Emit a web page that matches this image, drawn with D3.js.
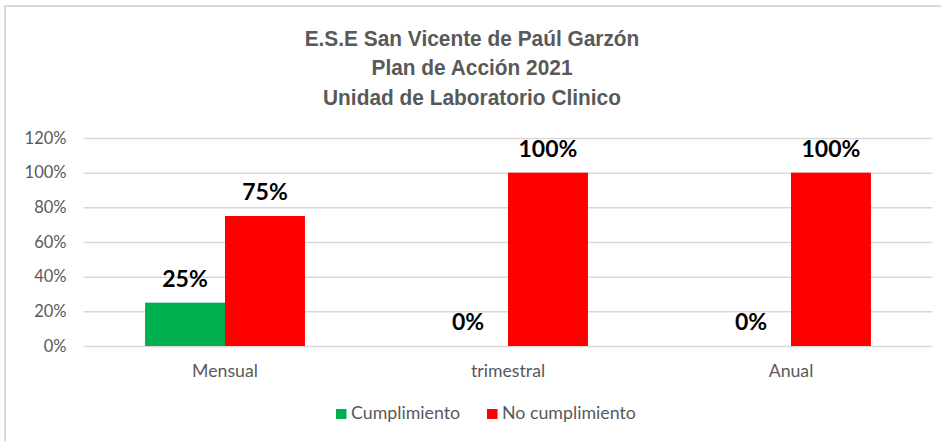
<!DOCTYPE html>
<html><head><meta charset="utf-8">
<script src="https://cdn.jsdelivr.net/npm/d3@7/dist/d3.min.js"></script>
<style>body{margin:0;background:#fff;overflow:hidden}</style>
</head><body><svg id="c" width="941" height="441"></svg>
<script>
const titleLines = ["E.S.E San Vicente de Paúl Garzón", "Plan de Acción 2021", "Unidad de Laboratorio Clinico"];
const categories = ["Mensual", "trimestral", "Anual"];
const seriesNames = ["Cumplimiento", "No cumplimiento"];
const cumplimiento = [0.25, 0, 0];
const noCumplimiento = [0.75, 1, 1];
const yTicks = [0, 0.2, 0.4, 0.6, 0.8, 1.0, 1.2];
const colors = ["#00B050", "#FF0000"];

const svg = d3.select("#c");
const W = 941, H = 441;
const m = {left: 83.5, right: 8.5, top: 138, bottom: 95};
const x = d3.scaleBand().domain(categories).range([m.left, W - m.right]);
const inner = d3.scaleBand().domain(seriesNames).range([0, x.bandwidth()]).paddingInner(0).paddingOuter(0.77);
const y = d3.scaleLinear().domain([0, 1.2]).range([H - m.bottom, m.top]);
const bodyFont = "Lato, 'Open Sans', sans-serif";

// border
svg.append("path").attr("d", `M5,441 V6 H941`).attr("fill", "none").attr("stroke", "#d9d9d9").attr("stroke-width", 2);

// title (condensed bold)
const tg = svg.append("g");
const t0 = tg.selectAll("text").data(titleLines).join("text")
  .attr("text-anchor", "middle")
  .attr("font-family", "'Liberation Sans', Arial, sans-serif")
  .attr("font-weight", "bold").attr("font-size", 22.5).attr("fill", "#595959")
  .text(d => d);
const k = 335 / t0.nodes()[0].getComputedTextLength();
t0.attr("transform", (d, i) => `translate(472,${45.5 + i * 29.5}) scale(${k},1)`);

// gridlines + y axis
const yAxis = d3.axisLeft(y).tickValues(yTicks).tickFormat(d3.format(".0%"))
  .tickSize(-(W - m.left - m.right)).tickPadding(17);
const gy = svg.append("g").attr("transform", `translate(${m.left},0)`).call(yAxis);
gy.select(".domain").remove();
gy.selectAll(".tick line").attr("stroke", "#d9d9d9").attr("stroke-width", 1.5);
gy.selectAll(".tick text").attr("font-family", bodyFont).attr("font-size", 16.5).attr("fill", "#595959");

// x axis
const xAxis = d3.axisBottom(x).tickSize(0).tickPadding(18.5);
const gx = svg.append("g").attr("transform", `translate(0,${y(0)})`).call(xAxis);
gx.select(".domain").remove();
gx.selectAll(".tick text").attr("font-family", bodyFont).attr("font-size", 17.7).attr("fill", "#595959");

// bars
const rows = categories.map((c, i) => ({c, vals: [cumplimiento[i], noCumplimiento[i]]}));
const g = svg.append("g");
rows.forEach(r => {
  r.vals.forEach((v, j) => {
    const sx = x(r.c) + inner(seriesNames[j]);
    g.append("rect").attr("x", sx).attr("width", inner.bandwidth())
      .attr("y", y(v)).attr("height", y(0) - y(v)).attr("fill", colors[j]);
    g.append("text").attr("x", sx + inner.bandwidth() / 2).attr("y", y(v) - 16)
      .attr("text-anchor", "middle").attr("font-family", bodyFont)
      .attr("font-weight", "bold").attr("font-size", 23).attr("fill", "#000")
      .text(d3.format(".0%")(v));
  });
});

// legend
const legX = [336, 487];
const lg = svg.append("g");
seriesNames.forEach((s, j) => {
  lg.append("rect").attr("x", legX[j]).attr("y", 409).attr("width", 10.5).attr("height", 10).attr("fill", colors[j]);
  lg.append("text").attr("x", legX[j] + 15).attr("y", 419)
    .attr("font-family", bodyFont).attr("font-size", 17.8).attr("fill", "#595959").text(s);
});
</script></body></html>
